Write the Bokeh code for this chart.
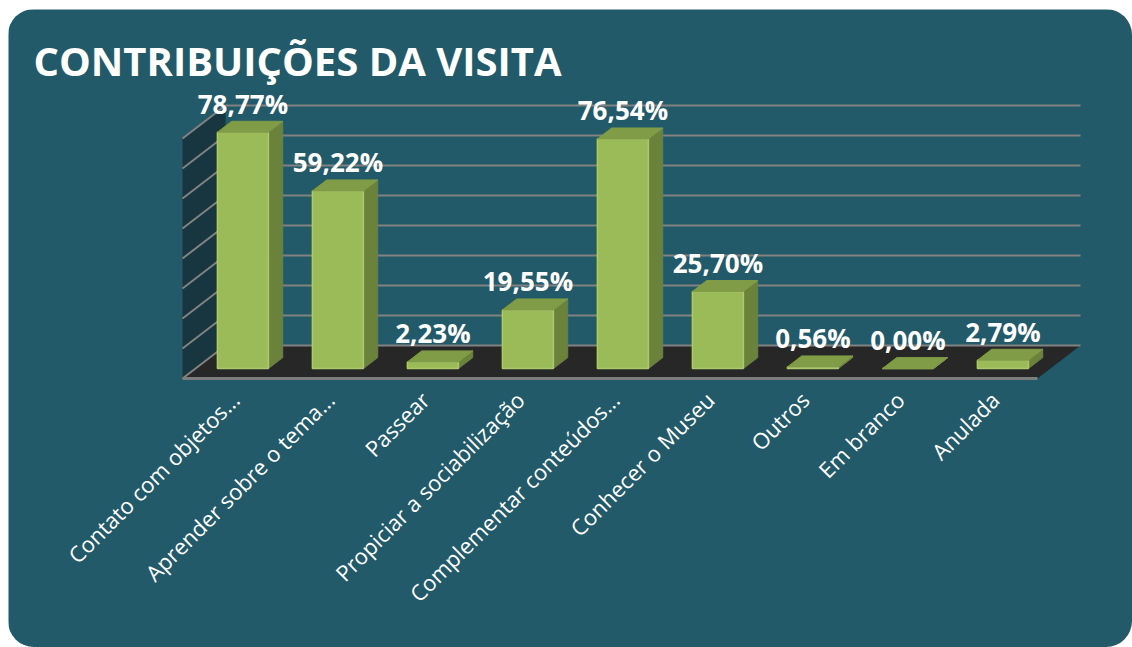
from bokeh.plotting import figure
from bokeh.models import Range1d
from bokeh.core.properties import value
from bokeh.embed import file_html
from bokeh.resources import INLINE

# ---------------- data ----------------
title = "CONTRIBUIÇÕES DA VISITA"
categories = [
    "Contato com objetos...",
    "Aprender sobre o tema...",
    "Passear",
    "Propiciar a sociabilização",
    "Complementar conteúdos...",
    "Conhecer o Museu",
    "Outros",
    "Em branco",
    "Anulada",
]
values = [78.77, 59.22, 2.23, 19.55, 76.54, 25.70, 0.56, 0.00, 2.79]
value_labels = ["78,77%", "59,22%", "2,23%", "19,55%", "76,54%", "25,70%", "0,56%", "0,00%", "2,79%"]
y_ticks = [0, 10, 20, 30, 40, 50, 60, 70, 80]

# ---------------- style / layout ----------------
TEAL = "#225a69"
SIDE_WALL = "#17363f"
FLOOR = "#272727"
GRID = "#828282"
FRONT = "#9bbb59"
FRONT_RIM = "#adc970"
SIDE = "#6b823a"
TOP = "#809c47"
OFF_X, OFF_Y = 8, 9          # page position of the panel
W, H = 1124, 638

X0 = 229.5 - OFF_X   # canvas x of first category centre on floor front edge
Y0 = 378.0 - OFF_Y   # canvas y of value 0 on floor front edge
SX = 95.0            # px per category
SY = 3.0             # px per percentage point
DX = 43.0 / SX       # depth vector (data units)
DY = 33.0 / SY
F_FRONT, F_BACK = 0.30, 0.633   # bar front/back depth fractions
HW = 25.5 / SX                  # bar half width

n = len(categories)
top_tick = max(y_ticks)

p = figure(
    width=W, height=H,
    x_range=Range1d(-X0 / SX, (W - X0) / SX),
    y_range=Range1d((Y0 - H) / SY, Y0 / SY),
    output_backend="svg", toolbar_location=None,
    x_axis_location=None, y_axis_location=None,
    min_border=0, outline_line_color=None,
    background_fill_color=TEAL, border_fill_color=TEAL,
)
p.xgrid.visible = False
p.ygrid.visible = False
p.styles = {"border-radius": "26px", "overflow": "hidden",
            "position": "absolute", "left": f"{OFF_X}px", "top": f"{OFF_Y}px"}

# side wall
p.patch(x=[-0.5, -0.5 + DX, -0.5 + DX, -0.5],
        y=[0, DY, top_tick + DY, top_tick],
        fill_color=SIDE_WALL, line_color=None)
# floor
p.patch(x=[-0.5, n - 0.5, n - 0.5 + DX, -0.5 + DX],
        y=[0, 0, DY, DY],
        fill_color=FLOOR, line_color=None)
# gridlines (side wall + back wall)
gx = [[-0.5, -0.5 + DX, n - 0.5 + DX] for t in y_ticks]
gy = [[t, t + DY, t + DY] for t in y_ticks]
p.multi_line(xs=gx, ys=gy, line_color=GRID, line_width=2)
# floor front edge
p.line(x=[-0.5, n - 0.5], y=[0, 0], line_color="#7d7d7d", line_width=3)

# bars
fdx, fdy = F_FRONT * DX, F_FRONT * DY
bdx, bdy = F_BACK * DX, F_BACK * DY
left = [i - HW + fdx for i in range(n)]
right = [i + HW + fdx for i in range(n)]
bottom = [fdy] * n
top = [fdy + v for v in values]
ddx, ddy = bdx - fdx, bdy - fdy

side_xs = [[r, r + ddx, r + ddx, r] for r in right]
side_ys = [[b, b + ddy, t + ddy, t] for b, t in zip(bottom, top)]
top_xs = [[l, r, r + ddx, l + ddx] for l, r in zip(left, right)]
top_ys = [[t, t, t + ddy, t + ddy] for t in top]

p.patches(xs=side_xs, ys=side_ys, fill_color=SIDE, line_color=SIDE, line_width=1)
p.quad(left=left, right=right, bottom=bottom, top=top,
       fill_color=FRONT, line_color=FRONT_RIM, line_width=1.5)
p.patches(xs=top_xs, ys=top_ys, fill_color=TOP, line_color=TOP, line_width=1)

# value labels
p.text(x=[i + fdx for i in range(n)], y=[t + 9.5 for t in top], text=value_labels,
       text_font=value("Open Sans"), text_font_style="bold", text_font_size="26px",
       text_color="white", text_align="center", text_baseline="middle")

# category labels (rotated 45°)
p.text(x=[i + fdx - 8.0 / SX for i in range(n)], y=[(Y0 - (395.0 - OFF_Y)) / SY] * n,
       text=categories, angle=0.7853981634, text_font=value("Open Sans"),
       text_font_size="22px", text_color="white", text_align="right", text_baseline="middle")

# title
p.text(x=[(33.0 - OFF_X - X0) / SX], y=[(Y0 - (60.0 - OFF_Y)) / SY], text=[title],
       text_font=value("Open Sans"), text_font_style="bold", text_font_size="40px",
       text_color="white", text_align="left", text_baseline="middle")

open("out.html", "w").write(file_html(p, INLINE))
